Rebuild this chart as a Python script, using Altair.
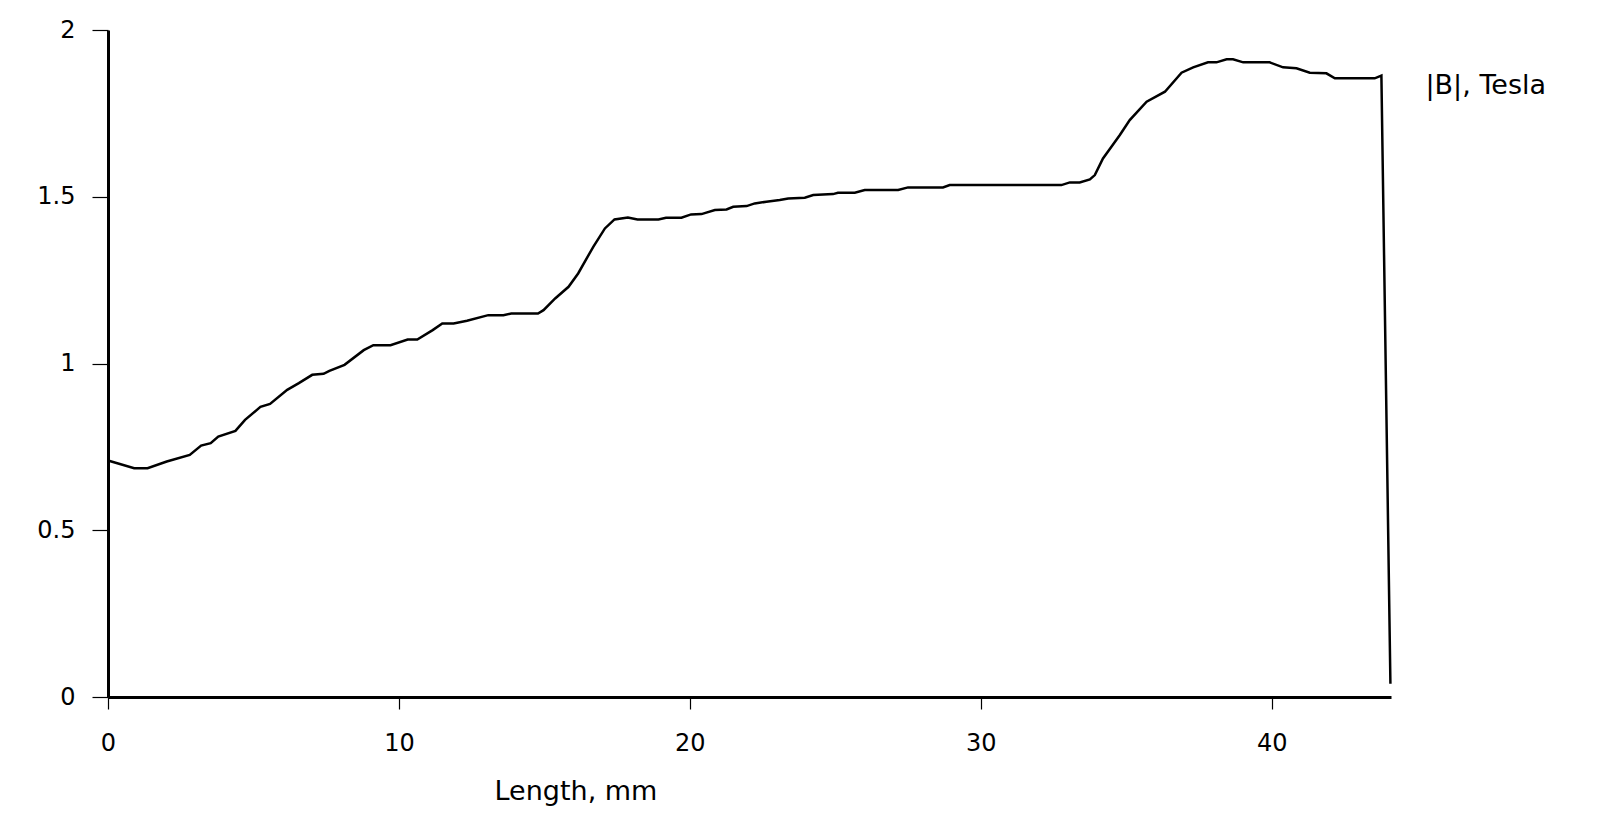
import altair as alt
import pandas as pd

length_mm = [0, 0.9, 1.36, 2.02, 2.81, 3.2, 3.53, 3.79, 4.38, 4.71, 5.24, 5.57, 6.16, 6.56,
             7.02, 7.41, 7.61, 8.13, 8.79, 9.12, 9.71, 10.3, 10.63, 11.16, 11.49, 11.88,
             12.34, 13.07, 13.59, 13.86, 14.78, 14.97, 15.37, 15.83, 16.16, 16.68, 17.08,
             17.41, 17.87, 18.2, 18.92, 19.18, 19.71, 20.04, 20.4, 20.86, 21.26, 21.49,
             21.95, 22.23, 22.63, 23.09, 23.38, 23.95, 24.24, 24.92, 25.09, 25.67, 26.01,
             27.16, 27.5, 28.7, 28.93, 32.77, 33.06, 33.4, 33.75, 33.92, 34.2, 34.49,
             34.78, 35.12, 35.7, 36.33, 36.9, 37.3, 37.81, 38.1, 38.45, 38.67, 39.02,
             39.93, 40.39, 40.85, 41.31, 41.88, 42.17, 43.54, 43.77, 44.08]

b_tesla = [0.709, 0.686, 0.686, 0.706, 0.726, 0.754, 0.761, 0.781, 0.798, 0.831, 0.870,
           0.879, 0.921, 0.941, 0.966, 0.969, 0.978, 0.996, 1.040, 1.055, 1.055, 1.072,
           1.072, 1.100, 1.120, 1.120, 1.128, 1.145, 1.145, 1.150, 1.150, 1.160, 1.195,
           1.230, 1.270, 1.350, 1.405, 1.432, 1.438, 1.432, 1.432, 1.437, 1.437, 1.447,
           1.448, 1.460, 1.462, 1.470, 1.472, 1.480, 1.485, 1.490, 1.495, 1.497, 1.505,
           1.508, 1.512, 1.512, 1.520, 1.520, 1.528, 1.528, 1.535, 1.535, 1.543, 1.543,
           1.552, 1.565, 1.615, 1.650, 1.685, 1.730, 1.785, 1.815, 1.872, 1.888, 1.903,
           1.903, 1.912, 1.912, 1.903, 1.903, 1.888, 1.885, 1.872, 1.870, 1.855, 1.855,
           1.863, 0.040]

x_ticks = [0, 10, 20, 30, 40]
y_ticks = [0, 0.5, 1, 1.5, 2]

df = pd.DataFrame({"i": list(range(len(length_mm))), "x": length_mm, "y": b_tesla})

FONT = "DejaVu Sans"

chart = alt.Chart(df).mark_line(color="black", strokeWidth=2.5).encode(
    x=alt.X("x:Q",
            scale=alt.Scale(domain=[0, 44.1], nice=False, zero=False),
            axis=alt.Axis(values=x_ticks, title="Length, mm", grid=False,
                          tickSize=12, labelPadding=41, labelBaseline="alphabetic",
                          labelFlush=False,
                          titleX=386, titleY=102, titleAlign="left",
                          titleBaseline="alphabetic")),
    y=alt.Y("y:Q",
            scale=alt.Scale(domain=[0, 2], nice=False),
            axis=alt.Axis(values=y_ticks, format=".1~f", title="|B|, Tesla", grid=False,
                          tickSize=16, labelPadding=17, labelBaseline="middle",
                          labelFlush=False,
                          titleAngle=0, titleX=1317, titleY=55, titleAlign="left",
                          titleBaseline="middle")),
    order="i:Q",
).properties(
    width=1283,
    height=667,
    autosize=alt.AutoSizeParams(type="none"),
    padding={"left": 100, "top": 22, "right": 200, "bottom": 110},
).configure_view(stroke=None).configure_axis(
    domainColor="black", domainWidth=3, tickColor="black", tickWidth=1.2,
    labelColor="black", labelFont=FONT, labelFontSize=24,
    titleColor="black", titleFont=FONT, titleFontSize=27, titleFontWeight="normal",
)

chart.save("out.html", embed_options={"renderer": "svg", "actions": False})
